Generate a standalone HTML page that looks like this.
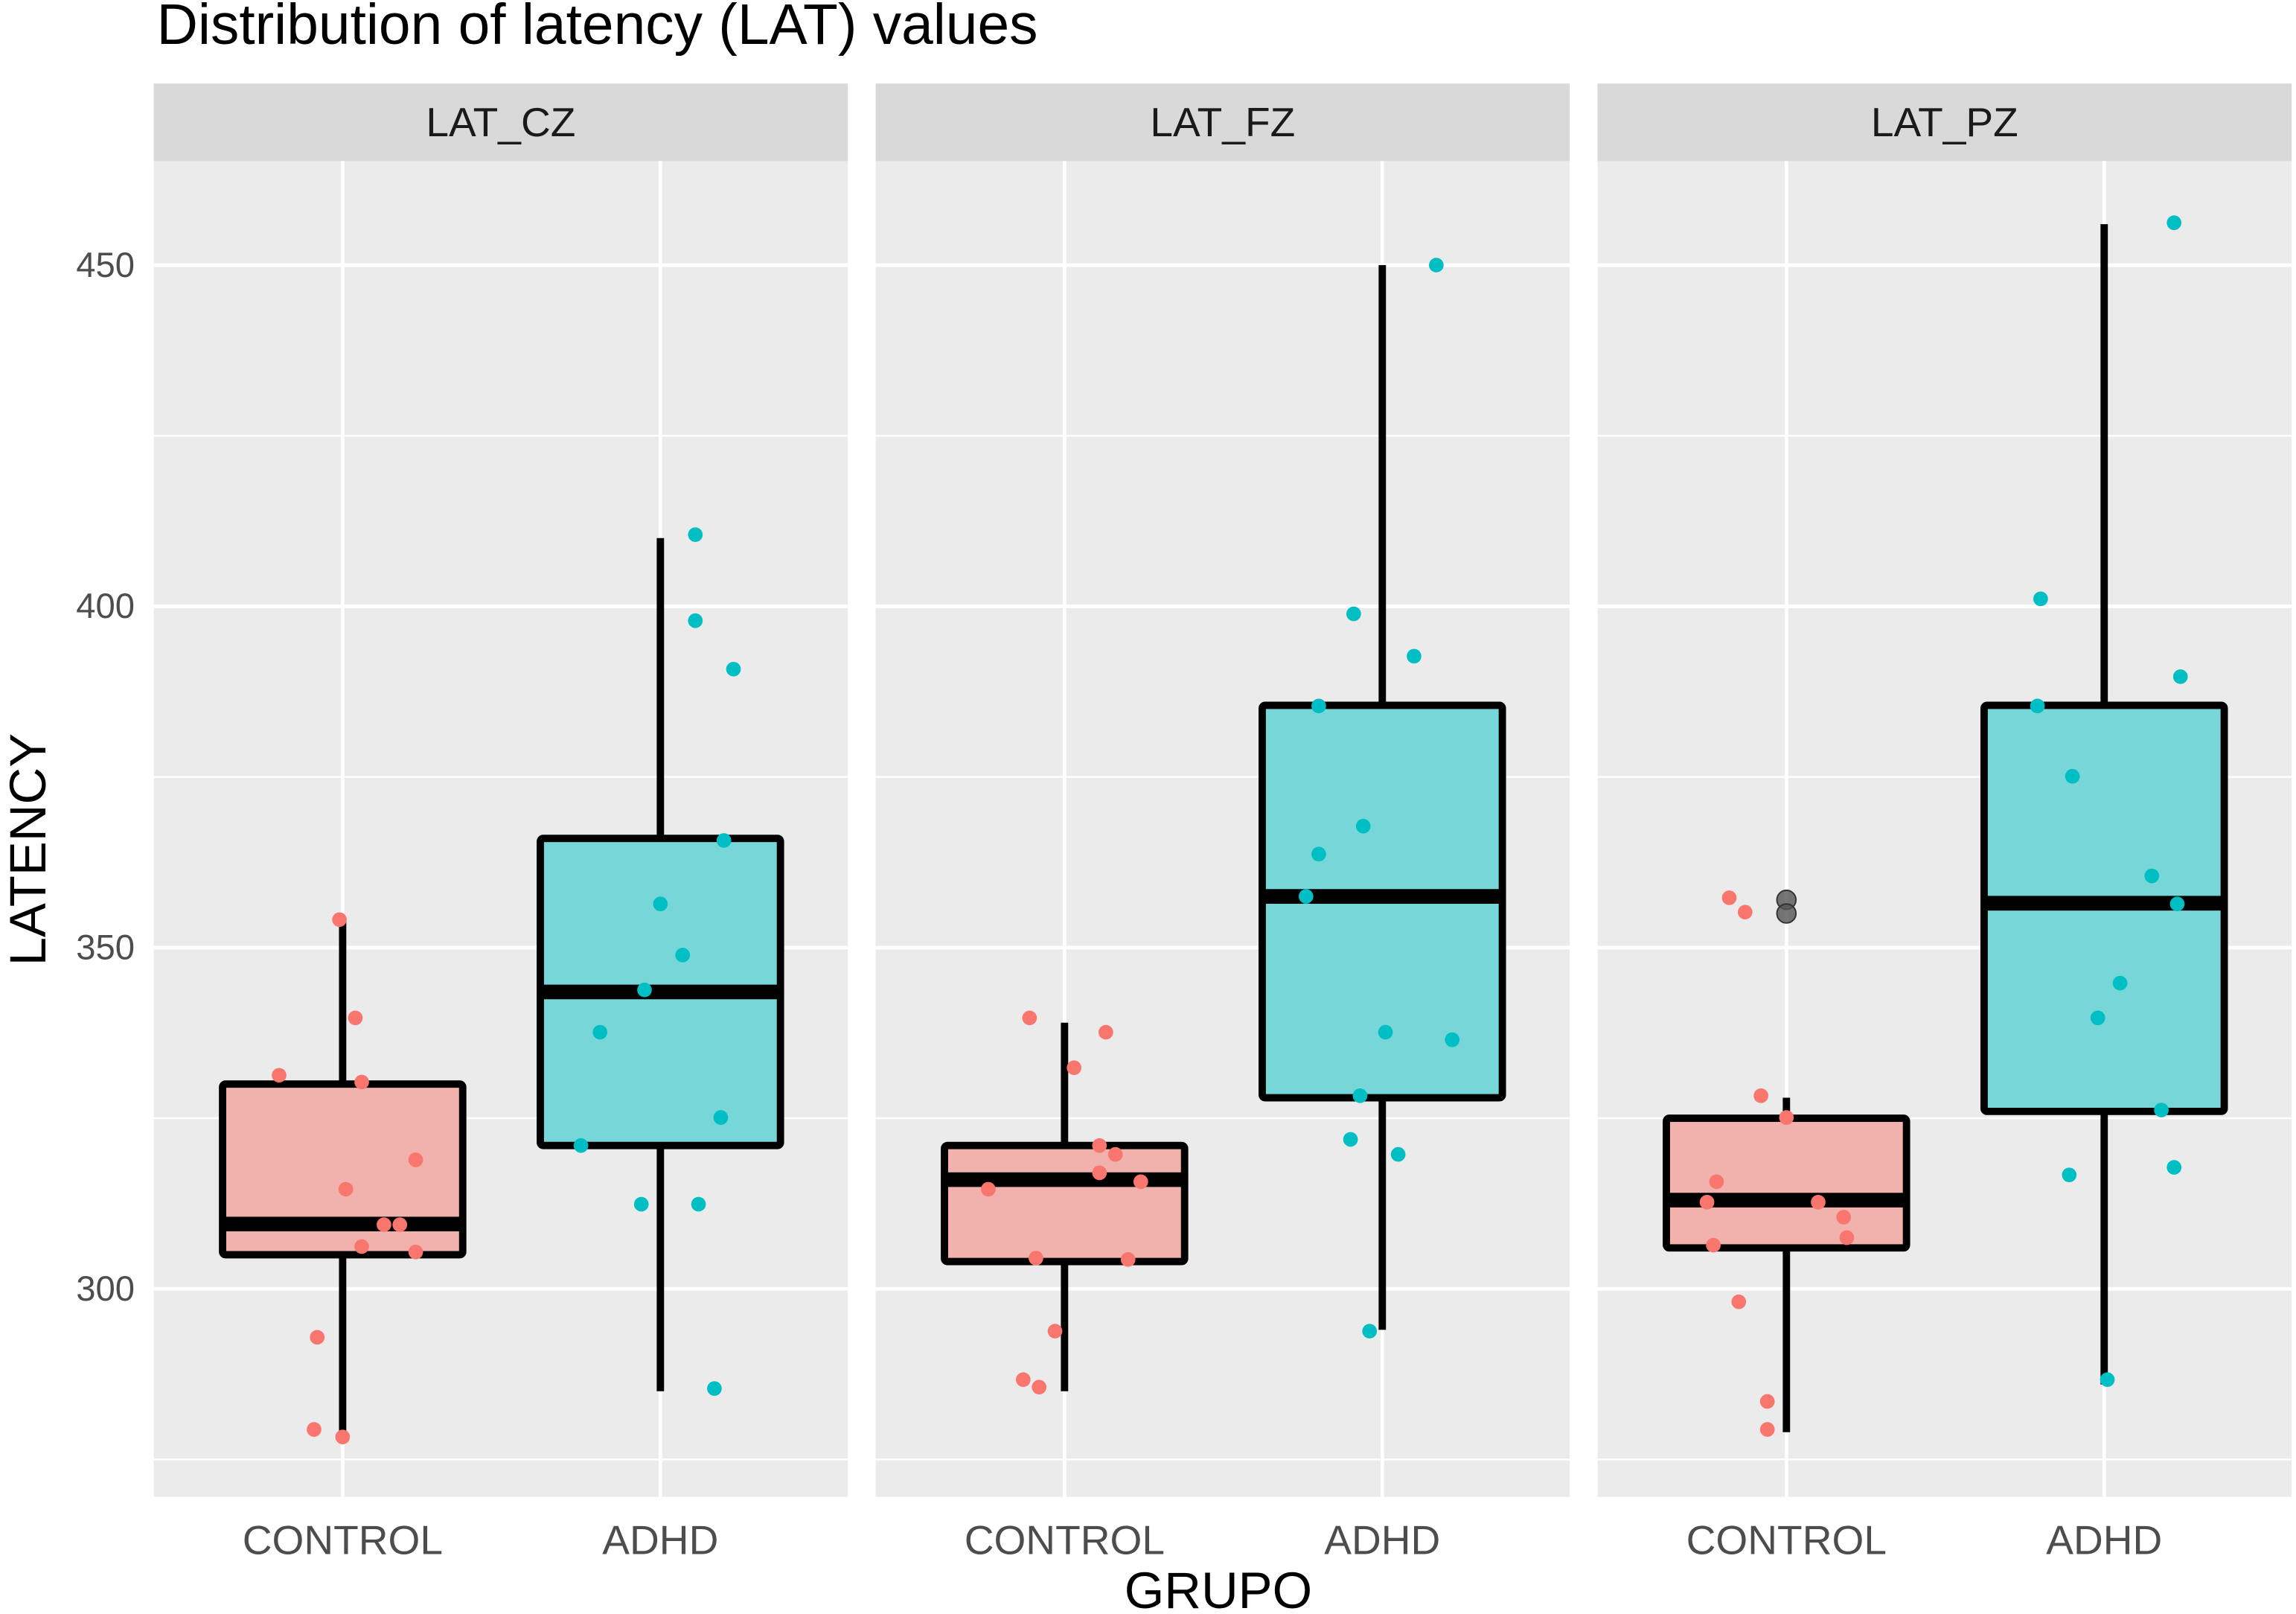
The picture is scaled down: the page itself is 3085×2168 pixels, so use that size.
<!DOCTYPE html>
<html><head><meta charset="utf-8"><style>
html,body{margin:0;padding:0;background:#fff;}
svg{display:block;font-family:"Liberation Sans",Arial,sans-serif;}
</style></head><body>
<svg id="chart" width="3085" height="2168" viewBox="0 0 1568 1102" preserveAspectRatio="none" xmlns="http://www.w3.org/2000/svg">
<text x="107" y="30" font-size="39" fill="#000">Distribution of latency (LAT) values</text>
<text transform="translate(31,580) rotate(-90)" text-anchor="middle" font-size="35" fill="#000">LATENCY</text>
<text x="832" y="1098" text-anchor="middle" font-size="35" fill="#000">GRUPO</text>
<g id="plot"></g>
</svg>
<script>
const panels = ["LAT_CZ","LAT_FZ","LAT_PZ"];
const groups = ["CONTROL","ADHD"];
const yTicks = [300,350,400,450];
const yMinor = [275,325,375,425];
// box stats: [lowWhisker, q1, median, q3, highWhisker]
const boxCZ = [[278,305,309.5,330,354],[285,321,343.5,366,410]];
const boxFZ = [[285,304,316,321,339],[294,328,357.5,385.5,450]];
const boxPZ = [[279,306,313,325,328],[286,326,356.5,385.5,456]];
const outliersPZControl = [357,355];
const czCtrlV = [331.3,292.9,279.4,354.1,278.3,339.7,330.3,314.6,306.2,309.4,309.4,318.9,305.4];
const czCtrlJ = [-0.20,-0.08,-0.09,-0.01,0,0.04,0.06,0.01,0.06,0.13,0.18,0.23,0.23];
const czAdhdV = [410.5,397.9,390.8,365.7,356.4,348.9,343.8,337.6,321.0,325.1,312.4,312.4,285.4];
const czAdhdJ = [0.11,0.11,0.23,0.20,0,0.07,-0.05,-0.19,-0.25,0.19,-0.06,0.12,0.17];
const fzCtrlV = [339.7,337.6,332.4,314.6,321.0,319.7,317.0,315.7,304.5,304.3,293.8,286.7,285.6];
const fzCtrlJ = [-0.11,0.13,0.03,-0.24,0.11,0.16,0.11,0.24,-0.09,0.2,-0.03,-0.13,-0.08];
const fzAdhdV = [450,398.9,392.7,385.4,367.8,363.7,357.5,337.6,336.5,328.3,321.9,319.7,293.8];
const fzAdhdJ = [0.17,-0.09,0.10,-0.2,-0.06,-0.2,-0.24,0.01,0.22,-0.07,-0.1,0.05,-0.04];
const pzCtrlV = [357.3,355.2,328.3,325.1,315.7,312.7,312.7,310.5,306.4,307.5,298.1,283.5,279.4];
const pzCtrlJ = [-0.18,-0.13,-0.08,0,-0.22,-0.25,0.1,0.18,-0.23,0.19,-0.15,-0.06,-0.06];
const pzAdhdV = [456.2,401.1,389.7,385.4,375.1,360.5,356.4,344.8,339.7,326.2,316.7,317.8,286.7];
const pzAdhdJ = [0.22,-0.2,0.24,-0.21,-0.1,0.15,0.23,0.05,-0.02,0.18,-0.11,0.22,0.01];

const boxes = [boxCZ, boxFZ, boxPZ];
const pts = [[[czCtrlV,czCtrlJ],[czAdhdV,czAdhdJ]],[[fzCtrlV,fzCtrlJ],[fzAdhdV,fzAdhdJ]],[[pzCtrlV,pzCtrlJ],[pzAdhdV,pzAdhdJ]]];
const fills = ["#f1b1ac","#76d6d8"], ptCol = ["#F8766D","#00BFC4"];
const NS = "http://www.w3.org/2000/svg";
const plotG = document.getElementById("plot");
const panelX0 = [105,598,1091], panelW = 474, plotTop = 110, plotBot = 1022;
function yS(v){ return 880 - (v-300)*4.66; }
function xS(p,gi,j){ return panelX0[p] + 129 + (gi + (j||0))*217; }
function mk(tag, attrs, parent){ const e=document.createElementNS(NS,tag); for(const k in attrs) e.setAttribute(k,attrs[k]); (parent||plotG).appendChild(e); return e; }

yTicks.forEach((t)=>{
  const tx = mk("text",{x:92,y:yS(t)+8,"text-anchor":"end","font-size":"24",fill:"#4d4d4d"});
  tx.textContent=t;
  
  
});

panels.forEach((name,p)=>{
  const pg = mk("g",{});
  
  
  const x0 = panelX0[p];
  const strip = mk("rect",{x:x0,y:57,width:panelW,height:53,fill:"#d9d9d9"},pg);
  
  
  const st = mk("text",{x:x0+panelW/2,y:93,"text-anchor":"middle","font-size":"28",fill:"#1a1a1a"},pg);
  st.textContent = name;
  
  
  const bg = mk("rect",{x:x0,y:plotTop,width:panelW,height:plotBot-plotTop,fill:"#ebebeb"},pg);
  
  
  yMinor.forEach(t=>{ mk("line",{x1:x0,x2:x0+panelW,y1:yS(t),y2:yS(t),stroke:"#fff","stroke-width":1.2},pg); });
  yTicks.forEach(t=>{ mk("line",{x1:x0,x2:x0+panelW,y1:yS(t),y2:yS(t),stroke:"#fff","stroke-width":2.4},pg); });
  groups.forEach((gr,gi)=>{ mk("line",{x1:xS(p,gi),x2:xS(p,gi),y1:plotTop,y2:plotBot,stroke:"#fff","stroke-width":2.4},pg); });
  groups.forEach((gr,gi)=>{
    const s = boxes[p][gi], cx = xS(p,gi), hw = 82;
    const bx = mk("g",{},pg);
    
    
    mk("line",{x1:cx,x2:cx,y1:yS(s[0]),y2:yS(s[1]),stroke:"#000","stroke-width":5},bx);
    mk("line",{x1:cx,x2:cx,y1:yS(s[3]),y2:yS(s[4]),stroke:"#000","stroke-width":5},bx);
    mk("rect",{x:cx-hw,y:yS(s[3]),width:2*hw,height:yS(s[1])-yS(s[3]),fill:fills[gi],stroke:"#000","stroke-width":5,rx:2},bx);
    mk("line",{x1:cx-hw,x2:cx+hw,y1:yS(s[2]),y2:yS(s[2]),stroke:"#000","stroke-width":10},bx);
    if(p===2 && gi===0){
      outliersPZControl.forEach(v=>{
        const o = mk("circle",{cx:cx,cy:yS(v),r:6.5,fill:"#555","fill-opacity":0.8,stroke:"#333","stroke-width":1},bx);
        
        
      });
    }
    const vals = pts[p][gi][0], jit = pts[p][gi][1];
    vals.forEach((v,i)=>{
      const c = mk("circle",{cx:xS(p,gi,jit[i]),cy:yS(v),r:5,fill:ptCol[gi]},pg);
      
      
    });
    const xl = mk("text",{x:cx,y:1061,"text-anchor":"middle","font-size":"28",fill:"#4d4d4d"},pg);
    xl.textContent = gr;
    
    
  });
});
</script>
</body></html>
